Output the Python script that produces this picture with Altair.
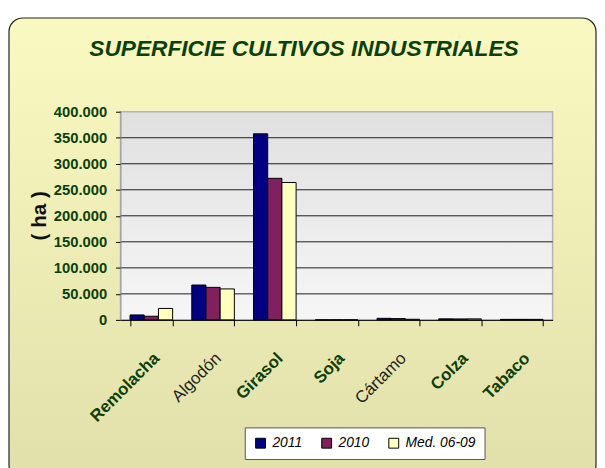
import altair as alt
import pandas as pd

# ---- data ----
title_text = "SUPERFICIE CULTIVOS INDUSTRIALES"
cultivos = ["Remolacha", "Algodón", "Girasol", "Soja", "Cártamo", "Colza", "Tabaco"]
series = ["2011", "2010", "Med. 06-09"]
v2011 = [9500, 67000, 357500, 0, 3000, 2000, 1000]
v2010 = [7000, 62500, 272000, 0, 2500, 1800, 1000]
vmed = [22000, 59500, 264000, 0, 1200, 2000, 1000]
y_ticks = [0, 50000, 100000, 150000, 200000, 250000, 300000, 350000, 400000]
grid_vals = [50000, 100000, 150000, 200000, 250000, 300000, 350000]
colors = ["#000080", "#80205F", "#FFFFC0"]

rows = []
for s, vals in zip(series, [v2011, v2010, vmed]):
    for c, v in zip(cultivos, vals):
        rows.append({"cultivo": c, "serie": s, "ha": v})
df = pd.DataFrame(rows)

W, H = 438, 211
FONT = "Liberation Sans"
GREEN = "#0B400B"

frame_grad = alt.LinearGradient(
    gradient="linear", x1=0, y1=0, x2=0, y2=1,
    stops=[alt.GradientStop(color="#FBF9C2", offset=0),
           alt.GradientStop(color="#E2E0AA", offset=1)])
plot_grad = alt.LinearGradient(
    gradient="linear", x1=0, y1=0, x2=0, y2=1,
    stops=[alt.GradientStop(color="#E0E0E0", offset=0),
           alt.GradientStop(color="#F6F6F6", offset=1)])

one = alt.Data(values=[{"t": title_text}])

frame = alt.Chart(one).mark_rect(
    cornerRadius=14, fill=frame_grad, stroke="#222222", strokeWidth=1.2
).encode(x=alt.value(-113), x2=alt.value(482), y=alt.value(-95), y2=alt.value(372))

plotbg = alt.Chart(one).mark_rect(
    fill=plot_grad, stroke="#B4B4B4", strokeWidth=1.5
).encode(x=alt.value(0), x2=alt.value(W), y=alt.value(0), y2=alt.value(H))

title = alt.Chart(one).mark_text(
    font=FONT, fontSize=23, fontWeight="bold", fontStyle="italic", color=GREEN,
    align="center", baseline="alphabetic"
).encode(text="t:N", x=alt.value(186), y=alt.value(-56))

yscale = alt.Scale(domain=[0, 400000], nice=False)
yaxis = alt.Axis(
    values=y_ticks,
    labelExpr="replace(format(datum.value, ','), ',', '.')",
    labelFont=FONT, labelFontSize=15, labelFontWeight="bold",
    labelColor=GREEN, labelPadding=9, tickSize=5, tickColor="black",
    domainColor="#999999", grid=False, zindex=1,
    title="( ha )", titleFont=FONT, titleFontSize=21, titleFontWeight="bold",
    titleColor="#111111", titleAngle=270, titleX=-82, titleY=105,
    titleAlign="center", titleBaseline="middle",
)

grid = alt.Chart(pd.DataFrame({"ha": grid_vals})).mark_rule(
    color="#1a1a1a", strokeWidth=1
).encode(y=alt.Y("ha:Q", scale=yscale, axis=yaxis))

dark_expr = "datum.value == 'Algodón' || datum.value == 'Cártamo'"

bars = alt.Chart(df).mark_bar(stroke="black", strokeWidth=1).encode(
    x=alt.X(
        "cultivo:N", sort=cultivos,
        scale=alt.Scale(paddingInner=0.31, paddingOuter=0.155),
        axis=alt.Axis(
            title=None, labelAngle=315, labelAlign="right", labelBaseline="middle",
            labelPadding=30, labelOffset=5, labelFont=FONT, labelFontSize=17,
            labelFontWeight={"expr": dark_expr + " ? 'normal' : 'bold'"},
            labelColor={"expr": dark_expr + " ? '#222222' : '" + GREEN + "'"},
            labelLimit=200, tickBand="extent", tickSize=6, tickColor="black",
            domainColor="black", grid=False, zindex=1,
        ),
    ),
    xOffset=alt.XOffset("serie:N", sort=series,
                        scale=alt.Scale(paddingInner=0, paddingOuter=0)),
    y=alt.Y("ha:Q", scale=yscale, axis=yaxis),
    color=alt.Color(
        "serie:N", sort=series,
        scale=alt.Scale(domain=series, range=colors),
        legend=alt.Legend(
            title=None, orient="none", legendX=126, legendY=320,
            direction="horizontal", fillColor="white", strokeColor="#555555",
            padding=9, symbolType="square", symbolSize=100,
            symbolStrokeColor="black", symbolStrokeWidth=1, symbolOpacity=1,
            labelFont=FONT, labelFontSize=14, labelFontStyle="italic",
            labelColor="black", columnPadding=17, labelOffset=5,
        ),
    ),
)

chart = alt.layer(frame, plotbg, grid, bars, title).properties(
    width=W, height=H,
    padding={"left": 114, "top": 102, "right": 45, "bottom": 147},
    autosize=alt.AutoSizeParams(type="none"),
).configure_view(stroke=None).configure(background="white")

chart.save("out.html", embed_options={"renderer": "svg", "actions": False})
